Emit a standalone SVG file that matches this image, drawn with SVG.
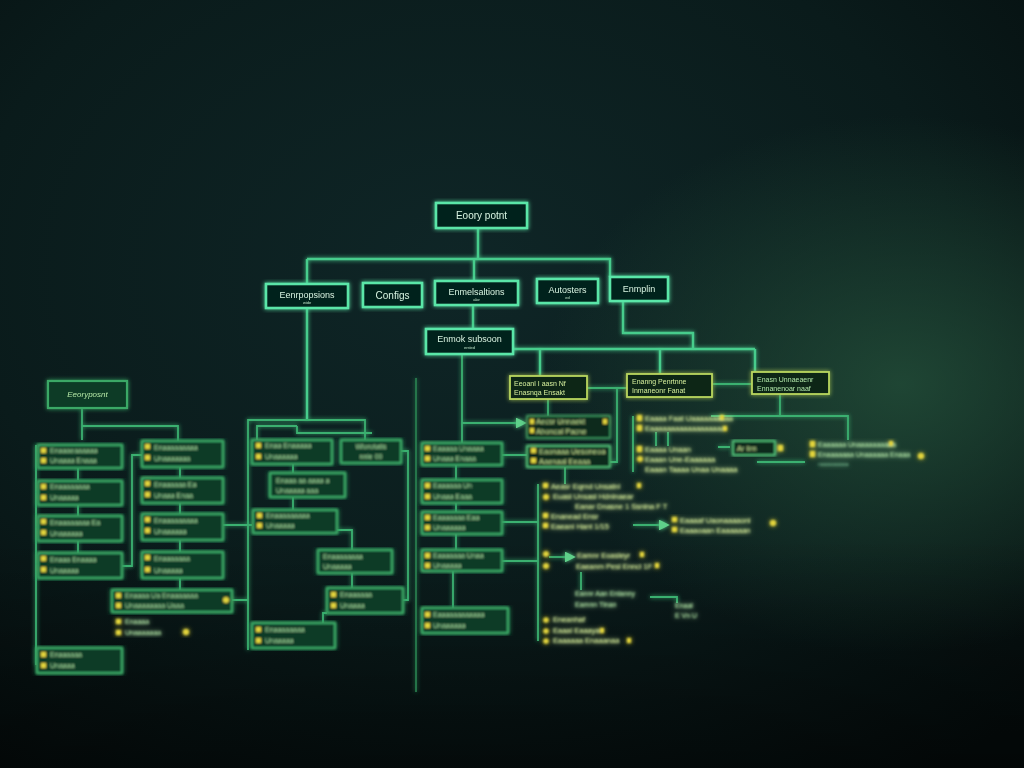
<svg xmlns="http://www.w3.org/2000/svg" width="1024" height="768" viewBox="0 0 1024 768">
<defs>
<radialGradient id="bg1" cx="0.45" cy="0.35" r="0.8">
<stop offset="0" stop-color="#0f2627"/>
<stop offset="0.6" stop-color="#0a1b1b"/>
<stop offset="1" stop-color="#050d0d"/>
</radialGradient>
<radialGradient id="haze" cx="0.88" cy="0.5" r="0.35">
<stop offset="0" stop-color="#24503a" stop-opacity="0.8"/>
<stop offset="1" stop-color="#24503a" stop-opacity="0"/>
</radialGradient>
<linearGradient id="bot" x1="0" y1="0" x2="0" y2="1">
<stop offset="0.7" stop-color="#000" stop-opacity="0"/>
<stop offset="1" stop-color="#000" stop-opacity="0.45"/>
</linearGradient>
<filter id="glow" x="-20%" y="-20%" width="140%" height="140%">
<feGaussianBlur in="SourceGraphic" stdDeviation="2.2" result="b"/>
<feMerge><feMergeNode in="b"/><feMergeNode in="SourceGraphic"/></feMerge>
</filter>
<filter id="soft" x="-10%" y="-10%" width="120%" height="120%">
<feGaussianBlur in="SourceGraphic" stdDeviation="0.9" result="a"/>
<feGaussianBlur in="SourceGraphic" stdDeviation="2.5" result="b"/>
<feMerge><feMergeNode in="b"/><feMergeNode in="a"/></feMerge>
</filter>
<marker id="ar" markerWidth="6" markerHeight="6" refX="5" refY="3" orient="auto">
<path d="M0,0 L6,3 L0,6 z" fill="#5fd08a"/>
</marker>
<style>
.ln{stroke:#47cc8c;stroke-width:2.4;fill:none}
.lm{stroke:#3bb070;stroke-width:1.8;fill:none}
.ld{stroke:#2b8a55;stroke-width:1.5;fill:none}
.top{fill:#06201b;stroke:#5ae6a8;stroke-width:2.6}
.box{fill:#0e3b25;stroke:#3aa866;stroke-width:2.2}
.ybox{fill:#0a2619;stroke:#b9d65e;stroke-width:1.8}
.gbox{fill:#0a2a1c;stroke:#55c77e;stroke-width:1.6}
.t{font-family:"Liberation Sans",Arial,sans-serif;font-size:10px;fill:#d4f5e2;text-anchor:middle}
.st{font-family:"Liberation Sans",Arial,sans-serif;font-size:4px;fill:#b6e6c8;text-anchor:middle}
.s{font-family:"Liberation Sans",Arial,sans-serif;font-size:7px;fill:#b2e6a6}
.sy{font-family:"Liberation Sans",Arial,sans-serif;font-size:7.5px;fill:#d8ef9a}
.b{fill:#e2d43e}
</style>
</defs>
<rect width="1024" height="768" fill="url(#bg1)"/>
<rect width="1024" height="768" fill="url(#haze)"/>
<rect width="1024" height="768" fill="url(#bot)"/>

<g id="connectors" filter="url(#glow)">
<path class="ln" d="M478 228 V259 M307 259 H610 V277 M474 259 V281 M307 259 V284"/>
<path class="ln" d="M307 308 V419 M473 305 V329 M623 301 V333 H693 V349 M466 349 H755 M540 349 V376 M660 349 V374 M755 349 V372"/>
<path class="lm" d="M462 354 V443 M456 465 V480 M456 503 V512 M456 533 V550 M453 570 V608"/>
<path class="lm" d="M587 388 H627 M617 388 V462 H610 M712 384 H752 M548 399 V416 M565 467 V484 M780 394 V416 M711 416 H848 V440"/>
<path class="lm" d="M462 423 H525" marker-end="url(#ar)"/>
<path class="lm" d="M502 455 H527 M501 522 H538 M501 561 H538 M538 484 V641 M633 416 V472 M656 432 V446 M668 432 V446"/>
<path class="lm" d="M633 525 H668" marker-end="url(#ar)"/>
<path class="lm" d="M549 557 H574" marker-end="url(#ar)"/>
<path class="lm" d="M581 572 V590 M650 597 H677 V603 M718 447 H730 M757 462 H805"/>
<path class="ld" d="M416 378 V692"/>
<path class="lm" d="M82 408 V440 M82 426 H178 V441 M78 468 V480 M78 505 V516 M78 541 V553 M180 467 V478 M180 503 V514 M180 540 V552 M180 578 V590"/>
<path class="lm" d="M36 445 V665 M122 566 H132 V455 H142 M223 525 H252 M232 600 H248"/>
<path class="lm" d="M248 650 V420 H365 V440 M257 440 V426 H297 M297 426 V433 H372"/>
<path class="lm" d="M293 464 V473 M293 497 V510 M337 530 H352 V550 M352 573 V588 M327 613 H323 V623 M401 451 H408 V600 H403"/>
</g>

<g id="n-entry" filter="url(#glow)">
<rect class="top" x="436" y="203" width="91" height="25"/>
<text class="t" x="481.5" y="219">Eoory potnt</text>
</g>
<g id="n-a" filter="url(#glow)">
<rect class="top" x="266" y="284" width="82" height="24"/>
<text class="t" x="307" y="298" style="font-size:9px">Eenrpopsions</text>
<text class="st" x="307" y="304">wide</text>
</g>
<g id="n-b" filter="url(#glow)">
<rect class="top" x="363" y="283" width="59" height="24"/>
<text class="t" x="392.5" y="298.5">Configs</text>
</g>
<g id="n-c" filter="url(#glow)">
<rect class="top" x="435" y="281" width="83" height="24"/>
<text class="t" x="476.5" y="295" style="font-size:9px">Enmelsaltions</text>
<text class="st" x="476.5" y="301">alor</text>
</g>
<g id="n-d" filter="url(#glow)">
<rect class="top" x="537" y="279" width="61" height="24"/>
<text class="t" x="567.5" y="293" style="font-size:9px">Autosters</text>
<text class="st" x="567.5" y="299">ed</text>
</g>
<g id="n-e" filter="url(#glow)">
<rect class="top" x="610" y="277" width="58" height="24"/>
<text class="t" x="639" y="292" style="font-size:9px">Enmplin</text>
</g>
<g id="n-sub" filter="url(#glow)">
<rect class="top" x="426" y="329" width="87" height="25"/>
<text class="t" x="469.5" y="342" style="font-size:9px">Enmok subsoon</text>
<text class="st" x="469.5" y="349">ersted</text>
</g>

<g id="n-f" filter="url(#glow)">
<rect class="ybox" x="510" y="376" width="77" height="23"/>
<text class="sy" x="514" y="386" style="font-size:7px">Eeoanl I aasn Nf</text>
<text class="sy" x="514" y="395" style="font-size:7px">Enasnqa Ensakt</text>
</g>
<g id="n-g" filter="url(#glow)">
<rect class="ybox" x="627" y="374" width="85" height="23"/>
<text class="sy" x="632" y="384" style="font-size:7px">Enanng Penrtnne</text>
<text class="sy" x="632" y="393" style="font-size:7px">Inmaneonr Fanat</text>
</g>
<g id="n-h" filter="url(#glow)">
<rect class="ybox" x="752" y="372" width="77" height="22"/>
<text class="s" x="757" y="382">Enasn Unnaeaenr</text>
<text class="s" x="757" y="391">Ennanenoar naaf</text>
</g>

<g id="n-i" filter="url(#soft)">
<rect class="gbox" x="527" y="416" width="83" height="22" style="stroke-opacity:0.6"/>
<rect class="b" x="530" y="419" width="4" height="5"/><rect class="b" x="530" y="428" width="4" height="5"/>
<rect class="b" x="603" y="419" width="4" height="5"/>
<text class="sy" x="536" y="424">Aecsr Unnaekt</text>
<text class="sy" x="536" y="434">Aboncal Pacne</text>
</g>
<g id="n-j" filter="url(#soft)">
<rect class="gbox" x="527" y="446" width="83" height="21"/>
<rect class="b" x="531" y="448" width="5" height="5"/><rect class="b" x="531" y="458" width="5" height="5"/>
<text class="sy" x="539" y="454">Eaonaaa Uesoneoa</text>
<text class="sy" x="539" y="464">Aaenaal Eeaaa</text>
</g>

<g id="n-list" filter="url(#soft)">
<rect class="b" x="543" y="483" width="5" height="5"/>
<text class="sy" x="551" y="489">Aeasr Eqrnd Unsatnl</text><rect class="b" x="637" y="483" width="4" height="5"/>
<circle class="b" cx="546" cy="497" r="2.8"/>
<text class="sy" x="553" y="499">Euasl Unsasl Hdnlnaear</text>
<text class="sy" x="575" y="509">Eanar Dnasne 1 Ssnlna F T</text>
<rect class="b" x="543" y="513" width="5" height="5"/>
<text class="sy" x="551" y="519">Enanead Ensr</text>
<rect class="b" x="543" y="523" width="5" height="5"/>
<text class="sy" x="551" y="529">Eaeanl Hant 1/15</text>
<circle class="b" cx="546" cy="554" r="2.8"/>
<circle class="b" cx="546" cy="566" r="2.8"/>
<text class="sy" x="577" y="558">Eamnr Eoasleyr</text><rect class="b" x="640" y="552" width="4" height="5"/>
<text class="sy" x="576" y="569">Eaeanm Pesl Enncl 1F</text><rect class="b" x="655" y="563" width="4" height="5"/>
<text class="s" x="575" y="596">Eannr Aan Enlanny</text>
<text class="s" x="575" y="607">Eamnn Tlnan</text>
<text class="s" x="675" y="608">Enaal</text>
<text class="s" x="675" y="618">E Vn U</text>
<circle class="b" cx="546" cy="620" r="2.6"/>
<text class="sy" x="553" y="622">Eneanhaf</text>
<circle class="b" cx="546" cy="631" r="2.6"/>
<text class="sy" x="553" y="633">Eaaal Eaaaya</text><rect class="b" x="600" y="628" width="4" height="5"/>
<circle class="b" cx="546" cy="641" r="2.6"/>
<text class="sy" x="553" y="643">Eaaaaaa Enaaanaa</text><rect class="b" x="627" y="638" width="4" height="5"/>
</g>
<g id="n-k" filter="url(#soft)">
<rect class="b" x="672" y="517" width="5" height="5"/><rect class="b" x="672" y="527" width="5" height="5"/>
<text class="sy" x="680" y="523">Eaaaaf Uaonaaaaonl</text><circle class="b" cx="773" cy="523" r="3"/>
<text class="sy" x="680" y="533">Eaaaoaan Eaaaaaan</text>
</g>

<g id="n-l" filter="url(#soft)">
<rect class="b" x="637" y="415" width="5" height="6"/><rect class="b" x="637" y="425" width="5" height="6"/>
<text class="sy" x="645" y="421">Eaaaa Faat Uaaaaaaaaaa</text><rect class="b" x="720" y="415" width="4" height="5"/>
<text class="sy" x="645" y="431">Eaaaaaaaaaaaaaaaaaa</text><rect class="b" x="723" y="426" width="4" height="5"/>
<rect class="b" x="637" y="446" width="5" height="6"/>
<text class="sy" x="645" y="452">Eaaaa Unaan</text>
<circle class="b" cx="640" cy="459" r="2.8"/>
<text class="sy" x="645" y="462">Eaaan Une-Eaaaaaa</text>
<text class="sy" x="645" y="472">Eaaan Taaaa Unaa Unaaaa</text>
</g>
<g id="n-m" filter="url(#soft)">
<rect class="gbox" x="733" y="441" width="42" height="14"/>
<text class="sy" x="737" y="451">Ar lirn</text>
<rect class="b" x="778" y="445" width="5" height="6"/>
</g>
<g id="n-n" filter="url(#soft)">
<rect class="b" x="810" y="441" width="5" height="6"/><rect class="b" x="810" y="451" width="5" height="6"/>
<text class="s" x="818" y="447">Eaaaaaa Unaaaaaaaaaa</text><rect class="b" x="889" y="441" width="4" height="5"/>
<text class="s" x="818" y="457">Enaaaaaaa Unaaaaaa Enaaa</text><circle class="b" cx="921" cy="456" r="3"/>
<text class="s" x="818" y="466" style="font-size:5px;fill:#6aa880">naaaaaaaaaa</text>
</g>

<g id="n-t1" filter="url(#soft)">
<rect class="box" x="422" y="443" width="80" height="22"/>
<rect class="b" x="425" y="446" width="5" height="5"/><rect class="b" x="425" y="456" width="5" height="5"/>
<text class="s" x="433" y="451">Eaaaaa Unaaaa</text><text class="s" x="433" y="461">Unaaa Enaaa</text>
</g>
<g id="n-t2" filter="url(#soft)">
<rect class="box" x="422" y="480" width="80" height="23"/>
<rect class="b" x="425" y="483" width="5" height="5"/><rect class="b" x="425" y="494" width="5" height="5"/>
<text class="s" x="433" y="488">Eaaaaaa Un</text><text class="s" x="433" y="499">Unaaa Eaaa</text>
</g>
<g id="n-t3" filter="url(#soft)">
<rect class="box" x="422" y="512" width="80" height="22"/>
<rect class="b" x="425" y="515" width="5" height="5"/><rect class="b" x="425" y="525" width="5" height="5"/>
<text class="s" x="433" y="520">Eaaaaaaa Eaa</text><text class="s" x="433" y="530">Unaaaaaa</text>
</g>
<g id="n-t4" filter="url(#soft)">
<rect class="box" x="422" y="550" width="80" height="21"/>
<rect class="b" x="425" y="553" width="5" height="5"/><rect class="b" x="425" y="563" width="5" height="5"/>
<text class="s" x="433" y="558">Eaaaaaaa Unaa</text><text class="s" x="433" y="568">Unaaaaa</text>
</g>
<g id="n-t5" filter="url(#soft)">
<rect class="box" x="422" y="608" width="86" height="25"/>
<rect class="b" x="425" y="612" width="5" height="5"/><rect class="b" x="425" y="623" width="5" height="5"/>
<text class="s" x="433" y="617">Eaaaaaaaaaaaa</text><text class="s" x="433" y="628">Unaaaaaa</text>
</g>

<g id="n-left" filter="url(#glow)">
<rect class="box" x="48" y="381" width="79" height="27"/>
<text class="s" x="87.5" y="397" style="text-anchor:middle;font-size:8px;font-style:italic">Eeoryposnt</text>
</g>
<g id="n-c1" filter="url(#soft)">
<rect class="box" x="38" y="445" width="84" height="23"/>
<rect class="b" x="41" y="448" width="5" height="5"/><rect class="b" x="41" y="458" width="5" height="5"/>
<text class="s" x="50" y="453">Enaaaeaaaaaa</text><text class="s" x="50" y="463">Unaaaa Enaaa</text>
</g>
<g id="n-c2" filter="url(#soft)">
<rect class="box" x="38" y="481" width="84" height="24"/>
<rect class="b" x="41" y="484" width="5" height="5"/><rect class="b" x="41" y="495" width="5" height="5"/>
<text class="s" x="50" y="489">Enaaaaaaaa</text><text class="s" x="50" y="500">Unaaaaa</text>
</g>
<g id="n-c3" filter="url(#soft)">
<rect class="box" x="38" y="516" width="84" height="25"/>
<rect class="b" x="41" y="519" width="5" height="5"/><rect class="b" x="41" y="530" width="5" height="5"/>
<text class="s" x="50" y="525">Enaaaaaaaa Ea</text><text class="s" x="50" y="536">Unaaaaaa</text>
</g>
<g id="n-c4" filter="url(#soft)">
<rect class="box" x="38" y="553" width="84" height="25"/>
<rect class="b" x="41" y="556" width="5" height="5"/><rect class="b" x="41" y="567" width="5" height="5"/>
<text class="s" x="50" y="562">Enaaa Enaaaa</text><text class="s" x="50" y="573">Unaaaaa</text>
</g>
<g id="n-c5" filter="url(#soft)">
<rect class="box" x="37" y="648" width="85" height="25"/>
<rect class="b" x="41" y="652" width="5" height="5"/><rect class="b" x="41" y="663" width="5" height="5"/>
<text class="s" x="50" y="657">Enaaaaaa</text><text class="s" x="50" y="668">Unaaaa</text>
</g>
<g id="n-d1" filter="url(#soft)">
<rect class="box" x="142" y="441" width="81" height="26"/>
<rect class="b" x="145" y="444" width="5" height="5"/><rect class="b" x="145" y="455" width="5" height="5"/>
<text class="s" x="154" y="450">Enaaaaaaaaa</text><text class="s" x="154" y="461">Unaaaaaaa</text>
</g>
<g id="n-d2" filter="url(#soft)">
<rect class="box" x="142" y="478" width="81" height="25"/>
<rect class="b" x="145" y="481" width="5" height="5"/><rect class="b" x="145" y="492" width="5" height="5"/>
<text class="s" x="154" y="487">Enaaaaaa Ea</text><text class="s" x="154" y="498">Unaaa Enaa</text>
</g>
<g id="n-d3" filter="url(#soft)">
<rect class="box" x="142" y="514" width="81" height="26"/>
<rect class="b" x="145" y="517" width="5" height="5"/><rect class="b" x="145" y="528" width="5" height="5"/>
<text class="s" x="154" y="523">Enaaaaaaaaa</text><text class="s" x="154" y="534">Unaaaaaa</text>
</g>
<g id="n-d4" filter="url(#soft)">
<rect class="box" x="142" y="552" width="81" height="26"/>
<rect class="b" x="145" y="555" width="5" height="5"/><rect class="b" x="145" y="567" width="5" height="5"/>
<text class="s" x="154" y="561">Enaaaaaaa</text><text class="s" x="154" y="573">Unaaaaa</text>
</g>
<g id="n-p" filter="url(#soft)">
<rect class="box" x="112" y="590" width="120" height="22"/>
<rect class="b" x="116" y="593" width="5" height="5"/><rect class="b" x="116" y="603" width="5" height="5"/>
<text class="s" x="125" y="598">Enaaaa Ua Enaaaaaaa</text><text class="s" x="125" y="608">Unaaaaaaaa Uaaa</text>
<circle class="b" cx="226" cy="600" r="3"/>
</g>
<g id="n-q" filter="url(#soft)">
<rect class="b" x="116" y="619" width="5" height="5"/><rect class="b" x="116" y="630" width="5" height="5"/>
<text class="s" x="125" y="624">Enaaaa</text><text class="s" x="125" y="635">Unaaaaaaa</text>
<circle class="b" cx="186" cy="632" r="3"/>
</g>

<g id="n-s1" filter="url(#soft)">
<rect class="box" x="252" y="440" width="80" height="24"/>
<rect class="b" x="256" y="443" width="5" height="5"/><rect class="b" x="256" y="454" width="5" height="5"/>
<text class="s" x="265" y="448">Enaa Enaaaaa</text><text class="s" x="265" y="459">Unaaaaaa</text>
</g>
<g id="n-s2" filter="url(#soft)">
<rect class="box" x="341" y="440" width="60" height="23"/>
<text class="s" x="371" y="449" style="text-anchor:middle">Wlorotatis</text><text class="s" x="371" y="459" style="text-anchor:middle">nnle 00</text>
</g>
<g id="n-s3" filter="url(#soft)">
<rect class="box" x="270" y="473" width="75" height="24"/>
<text class="s" x="276" y="483">Enaaa aa aaaa a</text><text class="s" x="276" y="493">Unaaaaa aaa</text>
</g>
<g id="n-s4" filter="url(#soft)">
<rect class="box" x="253" y="510" width="84" height="23"/>
<rect class="b" x="257" y="513" width="5" height="5"/><rect class="b" x="257" y="523" width="5" height="5"/>
<text class="s" x="266" y="518">Enaaaaaaaaa</text><text class="s" x="266" y="528">Unaaaaa</text>
</g>
<g id="n-s5" filter="url(#soft)">
<rect class="box" x="318" y="550" width="74" height="23"/>
<text class="s" x="323" y="559">Enaaaaaaaa</text><text class="s" x="323" y="569">Unaaaaa</text>
</g>
<g id="n-s6" filter="url(#soft)">
<rect class="box" x="327" y="588" width="76" height="25"/>
<rect class="b" x="331" y="592" width="5" height="5"/><rect class="b" x="331" y="603" width="5" height="5"/>
<text class="s" x="340" y="597">Enaaaaaa</text><text class="s" x="340" y="608">Unaaaa</text>
</g>
<g id="n-s7" filter="url(#soft)">
<rect class="box" x="252" y="623" width="83" height="25"/>
<rect class="b" x="256" y="627" width="5" height="5"/><rect class="b" x="256" y="638" width="5" height="5"/>
<text class="s" x="265" y="632">Enaaaaaaaa</text><text class="s" x="265" y="643">Unaaaaa</text>
</g>
</svg>
